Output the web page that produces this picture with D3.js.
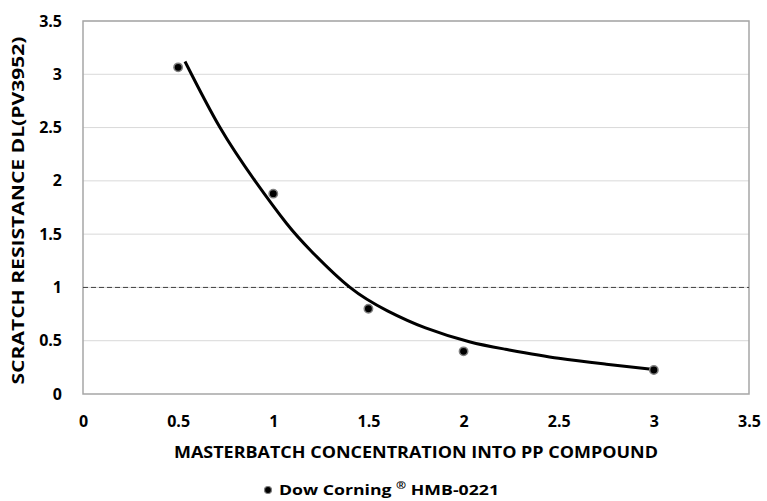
<!DOCTYPE html>
<html>
<head>
<meta charset="utf-8">
<script src="https://cdn.jsdelivr.net/npm/d3@7.9.0/dist/d3.min.js"></script>
<style>
  body { margin: 0; background: #fff; }
  svg text { font-family: "Open Sans", Lato, sans-serif; font-weight: bold; fill: #000; }
</style>
</head>
<body>
<svg id="chart" width="767" height="501"></svg>
<script>
// measured points
const concentration = [0.5, 1, 1.5, 2, 3];
const scratchDL = [3.065, 1.88, 0.8, 0.4, 0.225];

// trend line
const trendX = [0.536, 0.72, 0.904, 1.07, 1.2, 1.403, 1.6, 1.8, 2.03, 2.22, 2.5, 2.75, 3.0];
const trendY = [3.12, 2.5, 2.0, 1.6, 1.34, 1.0, 0.78, 0.62, 0.49, 0.42, 0.335, 0.28, 0.23];

const xTicks = [0, 0.5, 1, 1.5, 2, 2.5, 3, 3.5];
const yTicks = [0, 0.5, 1, 1.5, 2, 2.5, 3, 3.5];
const limitValue = 1;

const seriesName = 'Dow Corning';
const seriesCode = 'HMB-0221';

const svg = d3.select('#chart');
const margin = { left: 83, top: 21, right: 18, bottom: 107 };
const W = 767, H = 501;

const x = d3.scaleLinear().domain([0, 3.5]).range([margin.left, W - margin.right]);
const y = d3.scaleLinear().domain([0, 3.5]).range([H - margin.bottom, margin.top]);

// gridlines
svg.append('g')
  .selectAll('line')
  .data(yTicks.slice(1))
  .join('line')
  .attr('x1', x(0)).attr('x2', x(3.5))
  .attr('y1', d => y(d)).attr('y2', d => y(d))
  .attr('stroke', '#d9d9d9').attr('stroke-width', 1);

// frame
svg.append('rect')
  .attr('x', x(0)).attr('y', y(3.5))
  .attr('width', x(3.5) - x(0)).attr('height', y(0) - y(3.5))
  .attr('fill', 'none').attr('stroke', '#a6a6a6').attr('stroke-width', 1.5);

// dashed limit line
svg.append('line')
  .attr('x1', x(0)).attr('x2', x(3.5))
  .attr('y1', y(limitValue)).attr('y2', y(limitValue))
  .attr('stroke', '#404040').attr('stroke-width', 1)
  .attr('stroke-dasharray', '5,3');

// axes (labels only)
const xAxis = svg.append('g')
  .attr('transform', `translate(0,${y(0) + 19})`)
  .call(d3.axisBottom(x).tickValues(xTicks).tickFormat(d3.format('')).tickSize(0));
xAxis.select('.domain').remove();
xAxis.selectAll('text').attr('font-size', 16).attr('dy', '0.71em');

const yAxis = svg.append('g')
  .attr('transform', `translate(${x(0) - 21},0)`)
  .call(d3.axisLeft(y).tickValues(yTicks).tickFormat(d3.format('')).tickSize(0));
yAxis.select('.domain').remove();
yAxis.selectAll('text').attr('font-size', 16).attr('x', 0);
svg.selectAll('.tick text').style('font-family', '"Open Sans", sans-serif').style('font-weight', 'bold');

// axis titles
svg.append('text')
  .attr('x', (x(0) + x(3.5)) / 2).attr('y', 458)
  .attr('text-anchor', 'middle').attr('font-size', 16)
  .attr('textLength', 484).attr('lengthAdjust', 'spacingAndGlyphs')
  .text('MASTERBATCH CONCENTRATION INTO PP COMPOUND');

svg.append('text')
  .attr('transform', `translate(24,${(y(0) + y(3.5)) / 2 + 3}) rotate(-90)`)
  .attr('text-anchor', 'middle').attr('font-size', 16)
  .attr('textLength', 348).attr('lengthAdjust', 'spacingAndGlyphs')
  .text('SCRATCH RESISTANCE DL(PV3952)');

// trend curve
const trend = trendX.map((d, i) => [d, trendY[i]]);
svg.append('path')
  .datum(trend)
  .attr('fill', 'none').attr('stroke', '#000').attr('stroke-width', 3)
  .attr('d', d3.line().x(d => x(d[0])).y(d => y(d[1])).curve(d3.curveNatural));

// points
svg.append('g')
  .selectAll('circle')
  .data(concentration.map((c, i) => [c, scratchDL[i]]))
  .join('circle')
  .attr('cx', d => x(d[0])).attr('cy', d => y(d[1]))
  .attr('r', 4.2).attr('fill', '#000')
  .attr('stroke', '#808080').attr('stroke-width', 1.5);

// legend
const lg = svg.append('g').attr('transform', 'translate(268,490)');
lg.append('circle').attr('r', 3.5).attr('fill', '#000')
  .attr('stroke', '#808080').attr('stroke-width', 1.2);
const lt = lg.append('text').attr('x', 11).attr('y', 5).attr('font-size', 14.5)
  .attr('textLength', 220).attr('lengthAdjust', 'spacingAndGlyphs');
lt.append('tspan').text(seriesName + ' ');
lt.append('tspan').attr('font-size', 10).attr('dy', -6).text('®');
lt.append('tspan').attr('dy', 6).text(' ' + seriesCode);
</script>
</body>
</html>
